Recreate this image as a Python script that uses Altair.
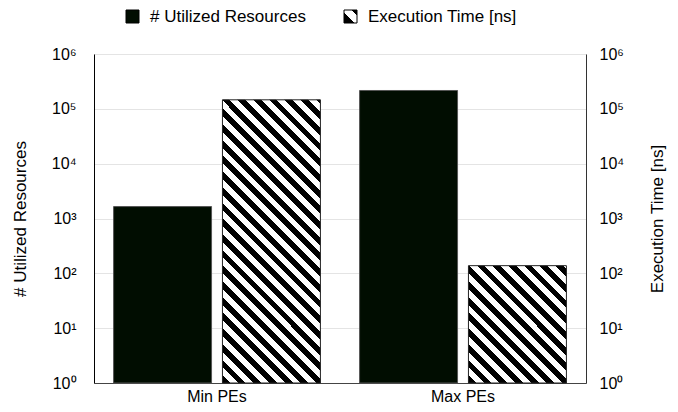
import math
import altair as alt
import pandas as pd

# ---- data ----
categories = ["Min PEs", "Max PEs"]
series = ["# Utilized Resources", "Execution Time [ns]"]
resources = [1650, 216000]
exec_time = [146000, 138]
y_ticks = [1, 10, 100, 1000, 10000, 100000, 1000000]

# ---- style ----
DARK = "#010d01"
FONT = "Liberation Sans"
PLOT_W, PLOT_H = 492, 329
BAR_W = 98.0
PERIOD = 11.1  # stripe period (px, perpendicular)


def hatch(h, w=BAR_W, period=PERIOD, frac=0.5):
    """Diagonal '\\' stripes made from a sharp-stop linear gradient."""
    n = (w + h) / (math.sqrt(2) * period)
    k = (w + h) / (w * w + h * h)
    stops = []
    i = 0
    while i / n < 1:
        a = i / n
        b = min((i + frac) / n, 1.0)
        c = min((i + 1) / n, 1.0)
        stops.append({"offset": a, "color": "black"})
        stops.append({"offset": b, "color": "black"})
        if b < 1:
            stops.append({"offset": b, "color": "white"})
            stops.append({"offset": c, "color": "white"})
        i += 1
    return {"gradient": "linear", "x1": 0, "y1": 1, "x2": k * w, "y2": 1 - k * h,
            "stops": stops}


def bar_h(v):
    return PLOT_H * math.log10(v) / 6.0


grad_min = hatch(bar_h(exec_time[0]))
grad_max = hatch(bar_h(exec_time[1]))

legend_grad = ("{gradient: 'linear', x1: 0, y1: 1, x2: 1, y2: 0, stops: ["
               "{offset: 0, color: 'black'}, {offset: 0.42, color: 'black'},"
               "{offset: 0.42, color: 'white'}, {offset: 0.78, color: 'white'},"
               "{offset: 0.78, color: 'black'}, {offset: 1, color: 'black'}]}")

df_res = pd.DataFrame({"category": categories, "series": series[0], "value": resources})
df_exe = pd.DataFrame({"category": categories, "series": series[1], "value": exec_time})

label_expr = ("'10' + ['\u2070','\u00b9','\u00b2','\u00b3','\u2074','\u2075','\u2076']"
              "[round(log(datum.value)/LN10)]")

x_enc = alt.X("category:N",
              scale=alt.Scale(domain=categories, paddingInner=0, paddingOuter=0),
              axis=alt.Axis(title=None, labelAngle=0, ticks=False, labelPadding=5,
                            domainColor="#444", labelFontSize=16))
xoff_enc = alt.XOffset("series:N",
                       scale=alt.Scale(domain=series, paddingInner=0.1, paddingOuter=0.18))

y_scale = alt.Scale(type="log", domain=[1, 1000000])

res = alt.Chart(df_res).mark_bar(stroke="#555", strokeWidth=1).encode(
    x=x_enc,
    xOffset=xoff_enc,
    y=alt.Y("value:Q", scale=y_scale,
            axis=alt.Axis(orient="left", title="# Utilized Resources", values=y_ticks,
                          labelExpr=label_expr, ticks=False, labelPadding=18,
                          grid=True, gridColor="#e4e4e4", domainColor="black",
                          titlePadding=22)),
    y2=alt.datum(1),
    color=alt.Color("series:N",
                    scale=alt.Scale(domain=series,
                                    range=[DARK, alt.ExprRef(expr=legend_grad)]),
                    legend=alt.Legend(title=None, orient="none", direction="horizontal",
                                      legendX=30, legendY=-46, symbolType="square",
                                      symbolSize=169, symbolStrokeColor="black",
                                      symbolStrokeWidth=1, labelFontSize=17,
                                      labelOffset=9, columnPadding=36, labelLimit=300)),
)

exe = alt.Chart(df_exe).mark_bar(stroke="#222", strokeWidth=1).encode(
    x=x_enc,
    xOffset=xoff_enc,
    y=alt.Y("value:Q", scale=y_scale,
            axis=alt.Axis(orient="right", title="Execution Time [ns]", values=y_ticks,
                          labelExpr=label_expr, ticks=False, labelPadding=13,
                          grid=False, domainColor="#333", titlePadding=26,
                          titleAngle=270, titleBaseline="top")),
    y2=alt.datum(1),
    fill=alt.condition(alt.datum.category == categories[0],
                       alt.value(grad_min), alt.value(grad_max)),
)

chart = alt.layer(res, exe).resolve_scale(y="independent").properties(
    width=PLOT_W, height=PLOT_H,
    autosize=alt.AutoSizeParams(type="none"),
    padding={"left": 86, "top": 46, "right": 84, "bottom": 21},
).configure_view(stroke=None).configure(
    font=FONT,
).configure_axis(
    labelFont=FONT, titleFont=FONT, labelFontSize=16, titleFontSize=17,
    titleFontWeight="normal", labelColor="black", titleColor="black",
).configure_legend(labelFont=FONT, labelColor="black")

chart.save("out.html", embed_options={"renderer": "svg", "actions": False})
